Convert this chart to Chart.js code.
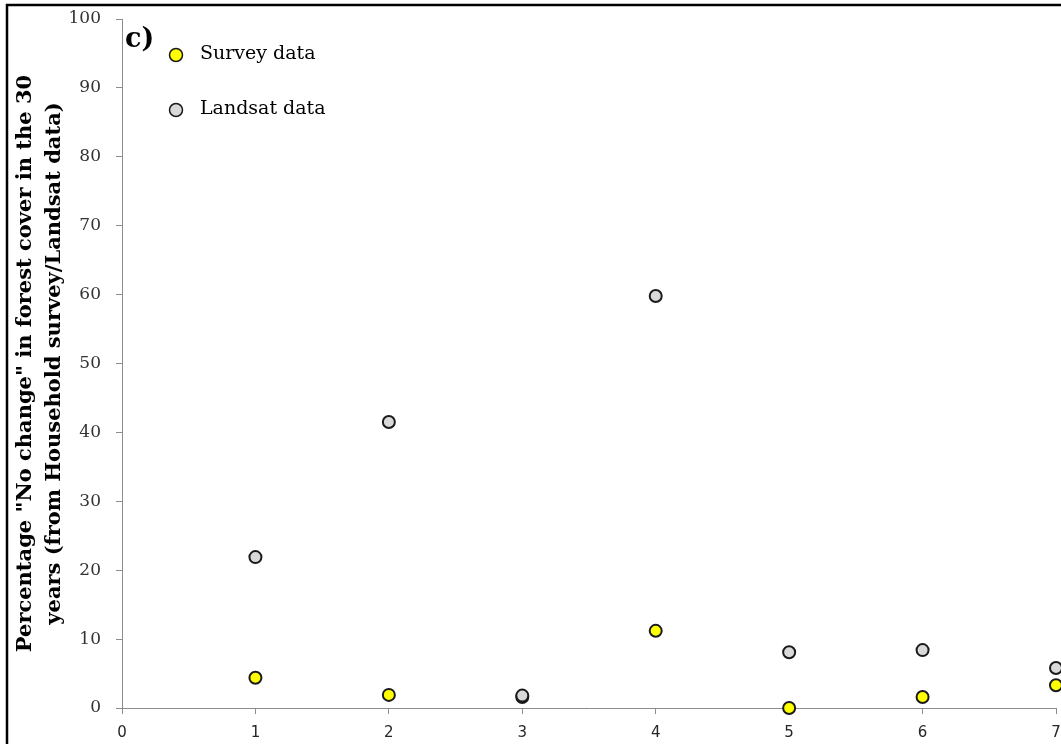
<!DOCTYPE html>
<html>
<head>
<meta charset="utf-8">
<title>No change in forest cover</title>
<script src="https://cdn.jsdelivr.net/npm/chart.js@4.4.1/dist/chart.umd.min.js"></script>
<style>
  html, body { margin: 0; padding: 0; background: #fff; }
  #wrap { width: 1061px; height: 744px; }
</style>
</head>
<body>
<div id="wrap"><canvas id="chart" width="1061" height="744"></canvas></div>
<script>
// Sites 1..7, percentage of "no change" answers / pixels
var sites = [1, 2, 3, 4, 5, 6, 7];
var surveyValues = [4.4, 1.9, 1.6, 11.2, 0, 1.6, 3.3];
var landsatValues = [21.9, 41.5, 1.8, 59.8, 8.1, 8.4, 5.8];
var yTitleLines = [
    'Percentage "No change" in forest cover in the 30',
    'years (from Household survey/Landsat data)'
];
var panelLabel = 'c)';

function toPoints(values) {
    return values.map(function(v, i) {
        return { x: sites[i], y: v };
    });
}

// White page and the black frame round the panel (only top/left fall on the canvas).
var framePlugin = {
    id: 'frame',
    beforeDraw: function(chart) {
        var ctx = chart.ctx;
        ctx.save();
        ctx.fillStyle = '#ffffff';
        ctx.fillRect(0, 0, chart.width, chart.height);
        ctx.strokeStyle = '#000000';
        ctx.lineWidth = 2.5;
        ctx.beginPath();
        ctx.moveTo(7, chart.height);
        ctx.lineTo(7, 5);
        ctx.lineTo(chart.width, 5);
        ctx.stroke();
        ctx.restore();
    }
};

// Panel letter and legend, drawn inside the plot area.
var insideLegend = {
    id: 'insideLegend',
    afterDraw: function(chart) {
        var ctx = chart.ctx;
        var area = chart.chartArea;
        ctx.save();
        ctx.fillStyle = '#000';
        ctx.font = 'bold 27px "DejaVu Serif", serif';
        ctx.textBaseline = 'alphabetic';
        ctx.fillText(panelLabel, area.left + 3, 47);

        var items = [chart.data.datasets[0], chart.data.datasets[1]];
        items.forEach(function(ds, i) {
            var cy = 55 + i * 55;
            ctx.beginPath();
            ctx.arc(area.left + 54, cy, 6.5, 0, Math.PI * 2);
            ctx.fillStyle = ds.backgroundColor;
            ctx.fill();
            ctx.lineWidth = 1.5;
            ctx.strokeStyle = ds.borderColor;
            ctx.stroke();
            ctx.fillStyle = '#000';
            ctx.font = '19px "DejaVu Serif", serif';
            ctx.textBaseline = 'middle';
            ctx.fillText(ds.label, area.left + 78, cy - 1);
        });
        ctx.restore();
    }
};

var ctx = document.getElementById('chart');
new Chart(ctx, {
    type: 'scatter',
    data: {
        datasets: [{
            label: 'Survey data',
            data: toPoints(surveyValues),
            backgroundColor: '#ffff00',
            borderColor: '#1a1a1a',
            borderWidth: 2,
            pointRadius: 6,
            order: 2,
            clip: false
        }, {
            label: 'Landsat data',
            data: toPoints(landsatValues),
            backgroundColor: '#d9d9d9',
            borderColor: '#1a1a1a',
            borderWidth: 2,
            pointRadius: 6,
            order: 1,
            clip: false
        }]
    },
    options: {
        responsive: false,
        animation: false,
        events: [],
        layout: {
            autoPadding: false,
            padding: { top: 19, right: 5, bottom: 0, left: 0 }
        },
        plugins: {
            legend: { display: false },
            tooltip: { enabled: false }
        },
        scales: {
            x: {
                type: 'linear',
                min: 0,
                max: 7,
                afterFit: function(scale) {
                    scale.height = 36;
                    scale.paddingLeft = 0;
                    scale.paddingRight = 0;
                },
                ticks: {
                    stepSize: 1,
                    padding: 10,
                    color: '#262626',
                    font: { family: '"DejaVu Sans", sans-serif', size: 15 }
                },
                grid: {
                    drawOnChartArea: false,
                    drawTicks: true,
                    tickLength: 6,
                    color: '#8c8c8c'
                },
                border: { color: '#8c8c8c', width: 1 }
            },
            y: {
                min: 0,
                max: 100,
                afterFit: function(scale) {
                    scale.width = 122;
                    scale.paddingTop = 0;
                    scale.paddingBottom = 0;
                },
                ticks: {
                    stepSize: 10,
                    padding: 15,
                    color: '#333',
                    font: { family: '"DejaVu Serif", serif', size: 17 }
                },
                grid: {
                    drawOnChartArea: false,
                    drawTicks: true,
                    tickLength: 6,
                    color: '#8c8c8c'
                },
                border: { color: '#8c8c8c', width: 1 },
                title: {
                    display: true,
                    text: yTitleLines,
                    color: '#000',
                    padding: { top: 11, bottom: 0 },
                    font: { family: '"DejaVu Serif", serif', size: 21, weight: 'bold', lineHeight: '29px' }
                }
            }
        }
    },
    plugins: [framePlugin, insideLegend]
});
</script>
</body>
</html>
